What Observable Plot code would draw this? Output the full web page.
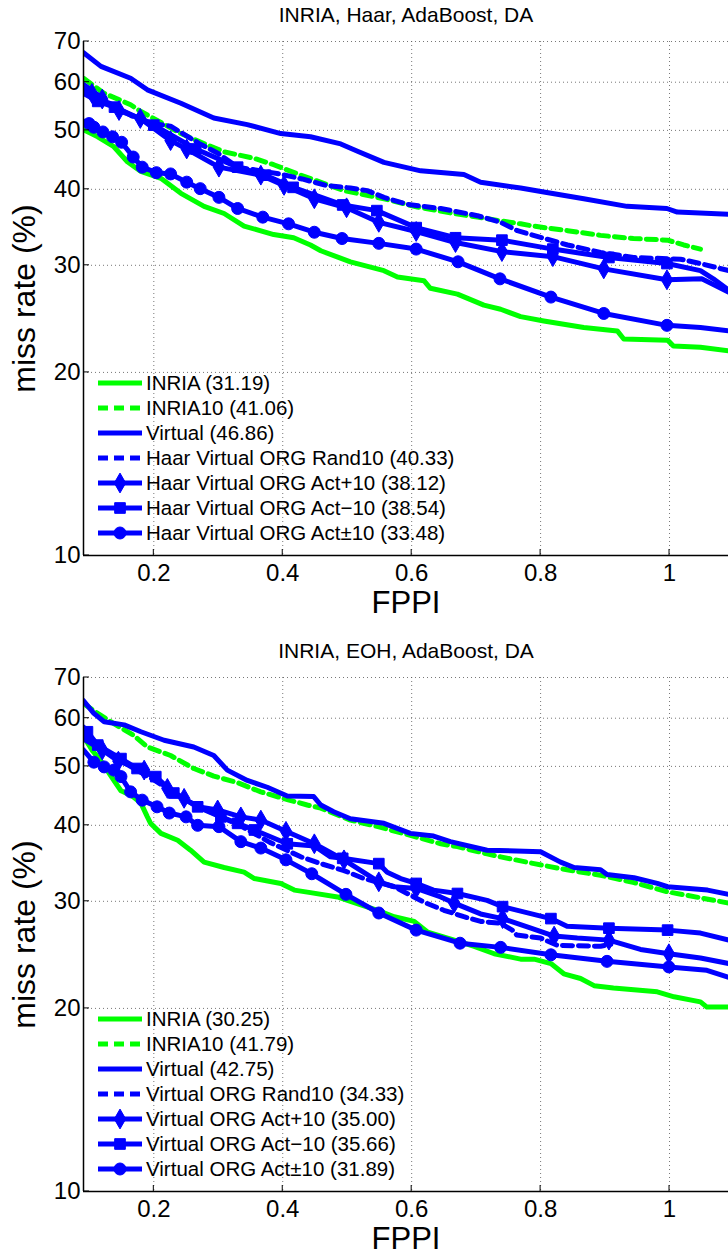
<!DOCTYPE html>
<html><head><meta charset="utf-8">
<script src="https://cdn.jsdelivr.net/npm/d3@7"></script>
<script src="https://cdn.jsdelivr.net/npm/@observablehq/plot@0.6"></script>
<style>
body{margin:0;background:#fff;width:728px;overflow:hidden}
svg{display:block}
</style></head><body><div id="chart"></div>
<script>
// ---------- axis ticks ----------
const xTicks = [0.2, 0.4, 0.6, 0.8, 1];
const yTicks = [10, 20, 30, 40, 50, 60, 70];
const xDomain = [0.0909, 1.0915];
const yDomain = [10, 70];

// ---------- panel titles & legend labels ----------
const titles = ["INRIA, Haar, AdaBoost, DA", "INRIA, EOH, AdaBoost, DA"];
const topLabels = ["INRIA (31.19)", "INRIA10 (41.06)", "Virtual (46.86)", "Haar Virtual ORG Rand10 (40.33)",
  "Haar Virtual ORG Act+10 (38.12)", "Haar Virtual ORG Act\u221210 (38.54)", "Haar Virtual ORG Act\u00b110 (33.48)"];
const botLabels = ["INRIA (30.25)", "INRIA10 (41.79)", "Virtual (42.75)", "Virtual ORG Rand10 (34.33)",
  "Virtual ORG Act+10 (35.00)", "Virtual ORG Act\u221210 (35.66)", "Virtual ORG Act\u00b110 (31.89)"];

// ---------- TOP panel series [FPPI, miss rate %] ----------
const topINRIA = [[0.091,50.1],[0.113,48.8],[0.138,47.0],[0.159,44.4],[0.18,42.8],[0.211,41.7],[0.242,39.4],[0.278,37.5],[0.309,36.5],[0.34,34.8],[0.386,33.7],[0.417,33.3],[0.443,32.4],[0.459,31.7],[0.505,30.4],[0.557,29.4],[0.578,28.7],[0.619,28.3],[0.629,27.5],[0.671,26.9],[0.712,25.8],[0.738,25.4],[0.769,24.7],[0.805,24.3],[0.867,23.7],[0.919,23.4],[0.929,22.7],[0.997,22.6],[1.006,22.1],[1.048,22.0],[1.092,21.7]];
const topINRIA10 = [[0.091,60.9],[0.122,57.6],[0.164,55.1],[0.18,53.7],[0.242,49.4],[0.273,47.8],[0.309,46.1],[0.355,45.0],[0.386,43.9],[0.428,42.2],[0.495,39.8],[0.557,38.6],[0.609,37.4],[0.665,36.5],[0.702,36.0],[0.738,35.5],[0.769,35.1],[0.789,34.8],[0.842,34.2],[0.893,33.6],[0.944,33.2],[0.997,33.0],[1.022,32.4],[1.048,31.9]];
const topVirtual = [[0.091,67.1],[0.118,63.7],[0.164,60.9],[0.19,58.3],[0.242,55.4],[0.293,52.4],[0.345,51.1],[0.397,49.4],[0.443,48.8],[0.49,47.5],[0.516,46.2],[0.557,44.3],[0.614,42.9],[0.681,42.3],[0.707,41.1],[0.769,40.2],[0.805,39.6],[0.867,38.6],[0.934,37.5],[0.996,37.2],[1.012,36.7],[1.092,36.4]];
const topRand10 = [[0.091,59.5],[0.13,55.5],[0.17,52.5],[0.2,51.3],[0.226,50.8],[0.27,47.6],[0.3,45.8],[0.33,43.5],[0.36,43.0],[0.395,42.4],[0.43,41.6],[0.467,40.6],[0.505,40.2],[0.531,39.8],[0.557,38.8],[0.593,37.8],[0.645,37.2],[0.702,36.2],[0.738,35.3],[0.764,34.2],[0.789,33.6],[0.842,32.4],[0.893,31.5],[0.944,30.9],[1.017,30.7],[1.048,30.2],[1.092,29.4]];
const topActPlus = [[0.091,58.5],[0.104,57.5],[0.12,56.3],[0.146,53.9],[0.179,52.3],[0.226,48.1],[0.251,46.6],[0.301,43.5],[0.366,42.2],[0.402,40.6],[0.449,38.6],[0.499,37.3],[0.549,35.3],[0.607,34.1],[0.668,32.7],[0.740,31.6],[0.819,31.0],[0.898,29.6],[0.996,28.4],[1.05,28.5],[1.068,27.9],[1.092,27.1]];
const topActPlusMk = [[0.104,57.5],[0.12,56.3],[0.146,53.9],[0.179,52.3],[0.226,48.1],[0.251,46.6],[0.301,43.5],[0.366,42.2],[0.402,40.6],[0.449,38.6],[0.499,37.3],[0.549,35.3],[0.607,34.1],[0.668,32.7],[0.740,31.6],[0.819,31.0],[0.898,29.6],[0.996,28.4]];
const topActMinus = [[0.091,57.5],[0.113,55.8],[0.139,54.6],[0.2,51.0],[0.265,46.6],[0.33,43.5],[0.373,42.2],[0.416,40.3],[0.493,37.7],[0.546,36.9],[0.607,34.6],[0.668,33.3],[0.740,33.0],[0.819,31.9],[0.906,30.9],[0.996,30.2],[1.048,29.4],[1.068,28.5],[1.092,27.3]];
const topActMinusMk = [[0.113,55.8],[0.139,54.6],[0.2,51.0],[0.265,46.6],[0.33,43.5],[0.373,42.2],[0.416,40.3],[0.493,37.7],[0.546,36.9],[0.607,34.6],[0.668,33.3],[0.740,33.0],[0.819,31.9],[0.906,30.9],[0.996,30.2]];
const topActPM = [[0.091,51.8],[0.0995,51.3],[0.107,50.6],[0.121,49.7],[0.136,48.8],[0.150,47.8],[0.168,45.2],[0.182,43.5],[0.204,42.6],[0.226,42.4],[0.251,41.1],[0.272,40.1],[0.301,38.8],[0.330,37.2],[0.369,36.0],[0.409,35.1],[0.449,34.0],[0.492,33.2],[0.549,32.6],[0.607,31.9],[0.672,30.4],[0.737,28.5],[0.816,26.6],[0.898,25.0],[0.996,23.9],[1.048,23.7],[1.092,23.4]];
const topActPMMk = [[0.0995,51.3],[0.107,50.6],[0.121,49.7],[0.136,48.8],[0.150,47.8],[0.168,45.2],[0.182,43.5],[0.204,42.6],[0.226,42.4],[0.251,41.1],[0.272,40.1],[0.301,38.8],[0.330,37.2],[0.369,36.0],[0.409,35.1],[0.449,34.0],[0.492,33.2],[0.549,32.6],[0.607,31.9],[0.672,30.4],[0.737,28.5],[0.816,26.6],[0.898,25.0],[0.996,23.9]];

// ---------- BOTTOM panel series ----------
const botINRIA = [[0.091,56],[0.105,53],[0.117,51.2],[0.138,47.4],[0.149,45.6],[0.165,44.8],[0.18,43.5],[0.19,41.3],[0.195,40.3],[0.211,38.8],[0.237,37.8],[0.257,36.4],[0.278,34.8],[0.309,34.1],[0.34,33.5],[0.356,32.7],[0.397,32.1],[0.418,31.3],[0.443,31.0],[0.485,30.5],[0.505,30.0],[0.547,29.0],[0.573,28.3],[0.604,27.8],[0.625,26.7],[0.666,25.9],[0.697,25.3],[0.728,24.6],[0.769,24.1],[0.79,24.1],[0.816,23.7],[0.836,22.8],[0.862,22.4],[0.883,21.8],[0.913,21.6],[0.981,21.3],[1.007,20.9],[1.048,20.5],[1.058,20.1],[1.092,20.1]];
const botINRIA10 = [[0.091,63.4],[0.113,61.1],[0.138,58.8],[0.169,56.2],[0.19,53.8],[0.226,52.1],[0.262,49.6],[0.293,48.2],[0.33,47.0],[0.366,45.4],[0.407,44.1],[0.438,43.2],[0.459,42.7],[0.505,40.8],[0.552,39.7],[0.598,38.5],[0.645,37.3],[0.671,36.9],[0.717,35.9],[0.738,35.5],[0.79,34.6],[0.841,33.8],[0.893,33.1],[0.945,32.2],[0.997,31.1],[1.048,30.4],[1.092,29.8]];
const botVirtual = [[0.091,64.1],[0.107,61.1],[0.123,59.2],[0.154,58.5],[0.18,57.0],[0.216,55.2],[0.262,53.8],[0.293,52.1],[0.314,49.3],[0.345,47.4],[0.376,46.2],[0.407,44.7],[0.448,44.6],[0.459,43.2],[0.479,42.1],[0.505,41.0],[0.557,40.3],[0.598,38.8],[0.634,38.4],[0.66,37.6],[0.717,36.4],[0.8,36.2],[0.831,34.8],[0.852,34.1],[0.893,33.8],[0.903,33.2],[0.945,32.8],[0.981,32.1],[0.997,31.7],[1.059,31.3],[1.092,30.8]];
const botRand10 = [[0.091,56],[0.12,53.5],[0.15,51],[0.2,47.5],[0.25,44],[0.3,41.5],[0.337,39.8],[0.38,37.5],[0.428,35.5],[0.459,34.6],[0.495,33.7],[0.526,32.7],[0.573,31.7],[0.619,29.9],[0.65,29.0],[0.681,28.3],[0.707,27.8],[0.738,27.6],[0.756,26.9],[0.763,26.4],[0.8,26.1],[0.826,25.4],[0.893,25.3],[0.909,25.5]];
const botActPlus = [[0.091,55.5],[0.12,53.2],[0.145,51.0],[0.185,49.3],[0.221,46.0],[0.247,44.3],[0.268,42.9],[0.299,42.4],[0.335,41.3],[0.366,40.8],[0.405,39.1],[0.449,37.3],[0.495,35.1],[0.549,32.3],[0.573,31.7],[0.607,31.5],[0.645,30.5],[0.666,29.8],[0.707,28.6],[0.741,28.1],[0.785,27.1],[0.821,26.3],[0.857,26.1],[0.906,25.9],[0.955,25.0],[0.999,24.6],[1.048,24.2],[1.092,23.7]];
const botActPlusMk = [[0.12,53.2],[0.145,51.0],[0.185,49.3],[0.221,46.0],[0.247,44.3],[0.299,42.4],[0.335,41.3],[0.366,40.8],[0.405,39.1],[0.449,37.3],[0.495,35.1],[0.549,32.3],[0.607,31.5],[0.666,29.8],[0.741,28.1],[0.821,26.3],[0.906,25.9],[0.999,24.6]];
const botActMinus = [[0.091,58],[0.097,57.0],[0.113,54.2],[0.149,51.5],[0.174,49.6],[0.203,48.1],[0.231,45.2],[0.268,42.9],[0.304,41.3],[0.33,40.3],[0.356,39.3],[0.407,37.3],[0.449,37.0],[0.474,35.5],[0.493,35.3],[0.549,34.6],[0.562,33.5],[0.583,32.7],[0.607,32.1],[0.634,31.3],[0.671,30.9],[0.717,30.1],[0.741,29.4],[0.816,28.1],[0.841,27.3],[0.906,27.1],[0.997,26.9],[1.048,26.6],[1.092,25.9]];
const botActMinusMk = [[0.097,57.0],[0.113,54.2],[0.149,51.5],[0.174,49.6],[0.203,48.1],[0.231,45.2],[0.268,42.9],[0.304,41.3],[0.33,40.3],[0.356,39.3],[0.407,37.3],[0.493,35.3],[0.549,34.6],[0.607,32.1],[0.671,30.9],[0.741,29.4],[0.816,28.1],[0.906,27.1],[0.997,26.9]];
const botActPM = [[0.091,53.2],[0.107,50.8],[0.123,49.9],[0.138,49.3],[0.149,48.1],[0.164,45.4],[0.182,44.0],[0.205,42.9],[0.224,41.9],[0.25,41.3],[0.268,40.0],[0.301,39.8],[0.335,37.6],[0.366,36.7],[0.405,35.1],[0.445,33.3],[0.498,30.8],[0.549,28.7],[0.607,26.9],[0.675,25.6],[0.738,25.2],[0.816,24.5],[0.903,23.9],[0.999,23.4],[1.058,23.1],[1.092,22.5]];
const botActPMMk = [[0.107,50.8],[0.123,49.9],[0.138,49.3],[0.149,48.1],[0.164,45.4],[0.182,44.0],[0.205,42.9],[0.224,41.9],[0.25,41.3],[0.268,40.0],[0.301,39.8],[0.335,37.6],[0.366,36.7],[0.405,35.1],[0.445,33.3],[0.498,30.8],[0.549,28.7],[0.607,26.9],[0.675,25.6],[0.738,25.2],[0.816,24.5],[0.903,23.9],[0.999,23.4]];

// ---------- styles ----------
const GREEN = "#00ff00", BLUE = "#0000ff";
const FONT = "'Liberation Sans', Arial, Helvetica, sans-serif";
const styleDefs = [
  {color: GREEN, dash: null, symbol: null},
  {color: GREEN, dash: "10,6", symbol: null},
  {color: BLUE, dash: null, symbol: null},
  {color: BLUE, dash: "10,6", symbol: null},
  {color: BLUE, dash: null, symbol: "diamond"},
  {color: BLUE, dash: null, symbol: "square"},
  {color: BLUE, dash: null, symbol: "circle"}
];
const LW = 5, MR = 6;

function panel(title, labels, lines, markers, height, mTop, mBottom) {
  const marks = [
    Plot.gridX(xTicks, {stroke: "#555", strokeOpacity: 0.8, strokeDasharray: "1,3"}),
    Plot.gridY(yTicks.filter(d => d > 10), {stroke: "#555", strokeOpacity: 0.8, strokeDasharray: "1,3"})
  ];
  lines.forEach((data, i) => {
    const s = styleDefs[i];
    marks.push(Plot.line(data, {x: d => d[0], y: d => d[1], stroke: s.color, strokeWidth: LW,
      strokeDasharray: s.dash, strokeLinejoin: "round", clip: true}));
    if (markers[i]) marks.push(Plot.dot(markers[i], {x: d => d[0], y: d => d[1], symbol: s.symbol,
      r: MR, fill: s.color, stroke: s.color, strokeWidth: 1, clip: true}));
  });
  marks.push(
    Plot.ruleX([xDomain[0]], {stroke: "#000", strokeWidth: 1.5}),
    Plot.ruleY([yDomain[0]], {stroke: "#000", strokeWidth: 1.5}),
    Plot.axisX(xTicks, {tickSize: 0, tickPadding: 8, fontSize: 24, tickFormat: d => String(d)}),
    Plot.axisY(yTicks, {tickSize: 0, tickPadding: 3, fontSize: 24, tickFormat: d => String(d)}),
    Plot.text([title], {frameAnchor: "top", dy: -26, fontSize: 21, lineAnchor: "middle", textAnchor: "middle"}),
    Plot.text(["FPPI"], {frameAnchor: "bottom", dy: 48, fontSize: 31, lineAnchor: "middle", textAnchor: "middle"}),
    Plot.text(["miss rate (%)"], {frameAnchor: "left", dx: -59, rotate: -90, fontSize: 32, lineAnchor: "middle", textAnchor: "middle"})
  );
  const svg = Plot.plot({
    width: 728, height,
    marginLeft: 83, marginRight: 0, marginTop: mTop, marginBottom: mBottom,
    x: {type: "linear", domain: xDomain, axis: null},
    y: {type: "log", domain: yDomain, axis: null},
    style: {fontFamily: FONT, background: "white", color: "#000", overflow: "visible"},
    marks
  });
  // inward tick marks and legend (layout only)
  const sx = svg.scale("x"), sy = svg.scale("y");
  const g = d3.select(svg).append("g");
  const yb = sy.apply(yDomain[0]), xl = sx.apply(xDomain[0]);
  xTicks.forEach(t => g.append("line").attr("x1", sx.apply(t)).attr("x2", sx.apply(t))
    .attr("y1", yb).attr("y2", yb - 6).attr("stroke", "#000"));
  yTicks.forEach(t => g.append("line").attr("x1", xl).attr("x2", xl + 6)
    .attr("y1", sy.apply(t)).attr("y2", sy.apply(t)).attr("stroke", "#000"));
  const lg = d3.select(svg).append("g").attr("text-anchor", "start");
  labels.forEach((lab, i) => {
    const s = styleDefs[i];
    const y = yb - 172 + 25 * i;
    lg.append("line").attr("x1", 98).attr("x2", 142).attr("y1", y).attr("y2", y)
      .attr("stroke", s.color).attr("stroke-width", LW).attr("stroke-dasharray", s.dash);
    if (s.symbol) {
      const type = {circle: d3.symbolCircle, square: d3.symbolSquare, diamond: d3.symbolDiamond}[s.symbol];
      lg.append("path").attr("d", d3.symbol(type, MR * MR * Math.PI)())
        .attr("transform", `translate(120,${y})`).attr("fill", s.color).attr("stroke", s.color);
    }
    lg.append("text").attr("x", 146).attr("y", y).attr("dy", "0.36em")
      .attr("text-anchor", "start").attr("font-size", 20.5).attr("fill", "#000").text(lab);
  });
  return svg;
}

const root = document.getElementById("chart");
root.appendChild(panel(titles[0], topLabels,
  [topINRIA, topINRIA10, topVirtual, topRand10, topActPlus, topActMinus, topActPM],
  [null, null, null, null, topActPlusMk, topActMinusMk, topActPMMk], 636, 41, 81));
root.appendChild(panel(titles[1], botLabels,
  [botINRIA, botINRIA10, botVirtual, botRand10, botActPlus, botActMinus, botActPM],
  [null, null, null, null, botActPlusMk, botActMinusMk, botActPMMk], 621, 41, 66));
</script></body></html>
